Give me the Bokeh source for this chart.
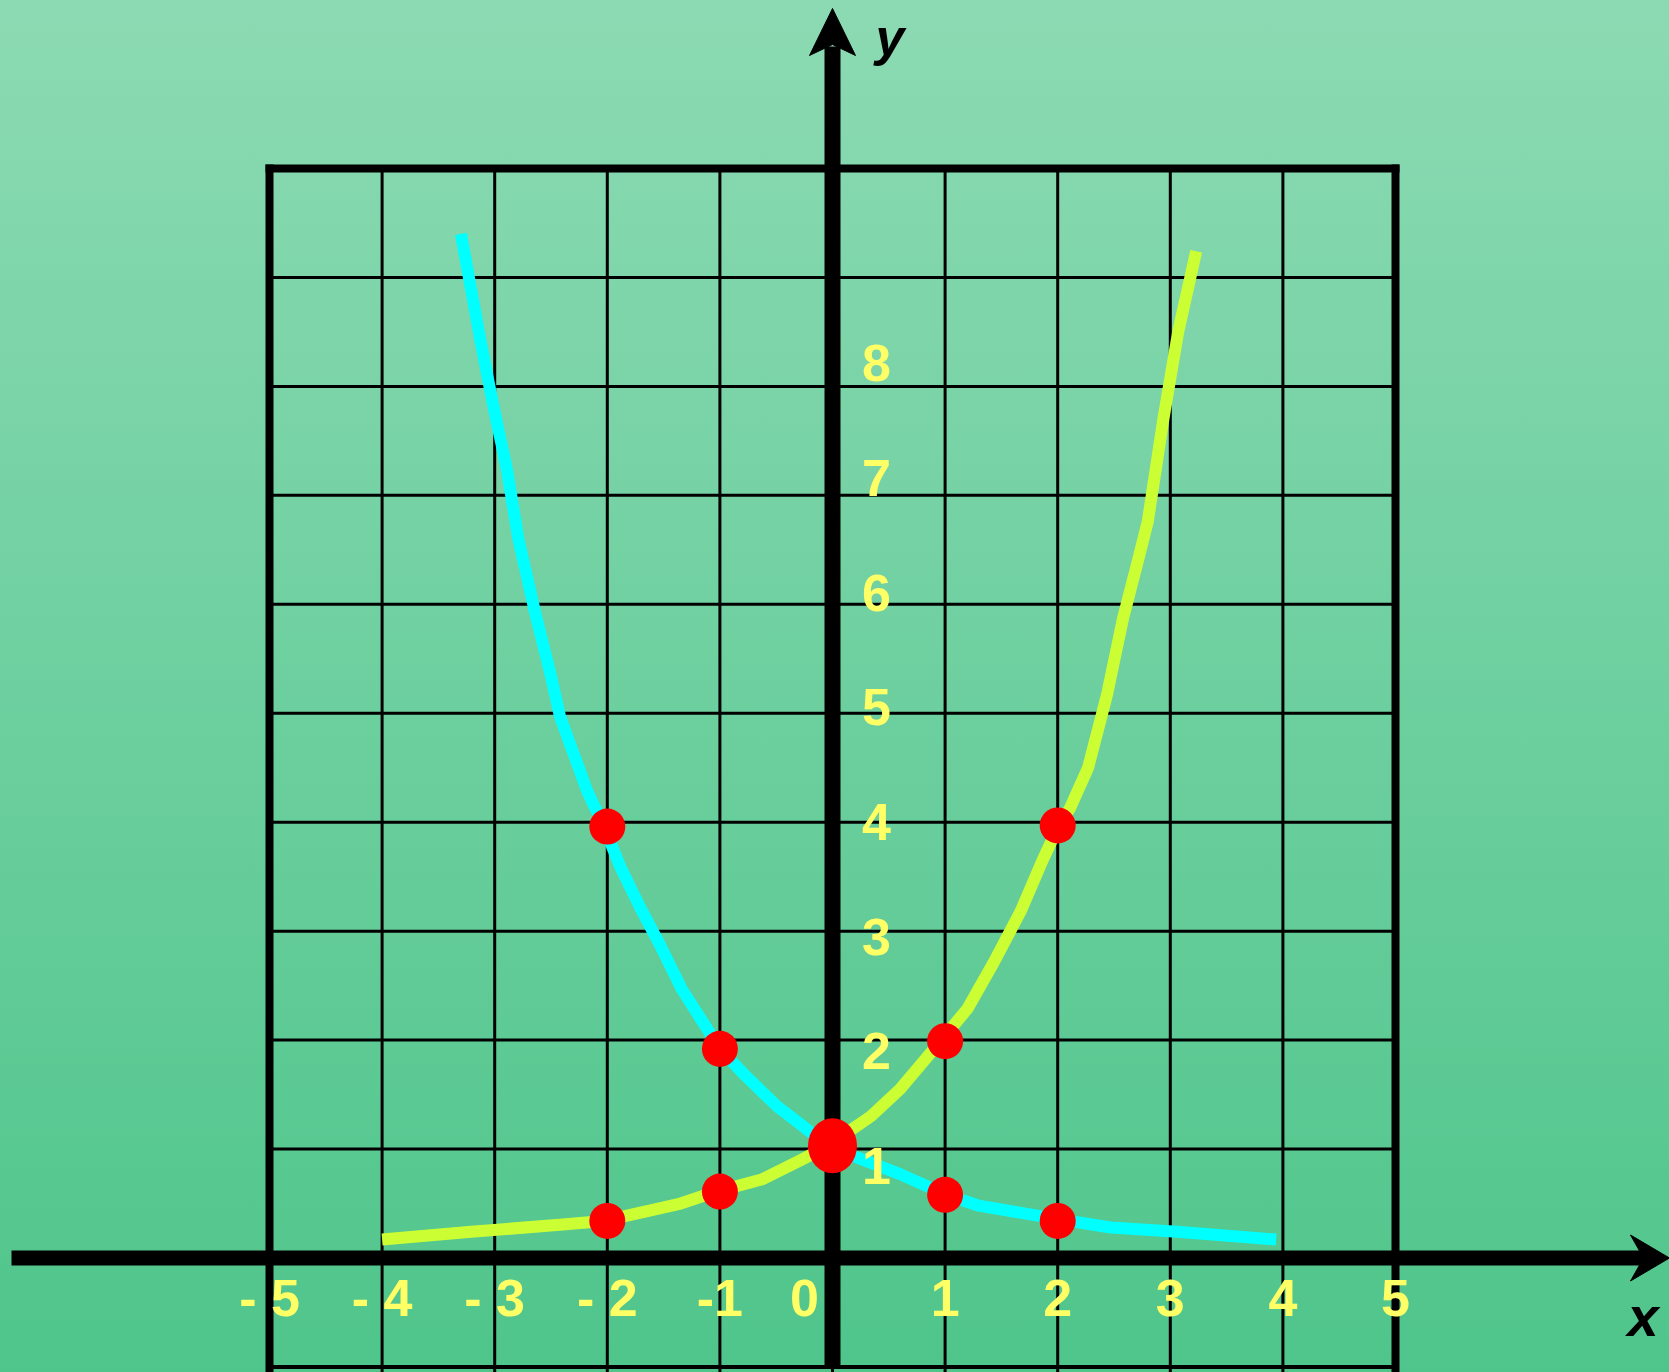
from bokeh.plotting import figure
from bokeh.models import Range1d
from bokeh.core.properties import value
from bokeh.embed import file_html
from bokeh.resources import INLINE

# ---------------- data ----------------
x_ticks = [-5, -4, -3, -2, -1, 0, 1, 2, 3, 4, 5]
x_tick_labels = ["- 5", "- 4", "- 3", "- 2", "-1", "0", "1", "2", "3", "4", "5"]
y_ticks = [1, 2, 3, 4, 5, 6, 7, 8]
y_tick_labels = ["1", "2", "3", "4", "5", "6", "7", "8"]
grid_rows = [1, 2, 3, 4, 5, 6, 7, 8, 9]
grid_top = 10
grid_bottom = -1
grid_left = -5
grid_right = 5

# y = 2^x (yellow-green curve)
growth_x = [-4.00, -3.21, -2.37, -2.03, -1.35, -1.03, -0.63, -0.26, -0.04, 0.34, 0.60,
            0.96, 1.20, 1.43, 1.67, 1.87, 2.01, 2.11, 2.27, 2.44, 2.58, 2.71, 2.80,
            2.94, 3.07, 3.23]
growth_y = [0.17, 0.24, 0.31, 0.34, 0.50, 0.61, 0.72, 0.91, 1.03, 1.30, 1.55,
            1.99, 2.29, 2.71, 3.18, 3.66, 3.97, 4.13, 4.50, 5.18, 5.87, 6.39, 6.76,
            7.71, 8.50, 9.24]

# y = (1/2)^x (cyan curve)
decay_x = [-3.30, -3.13, -3.02, -2.89, -2.79, -2.64, -2.50, -2.42, -2.18, -2.03, -1.88,
           -1.71, -1.53, -1.34, -1.00, -0.77, -0.49, -0.25, -0.04, 0.25, 0.60, 1.01,
           1.30, 2.10, 2.47, 3.06, 3.94]
decay_y = [9.40, 8.44, 7.86, 7.23, 6.60, 5.92, 5.34, 4.97, 4.29, 3.96, 3.58,
           3.22, 2.87, 2.47, 1.92, 1.67, 1.39, 1.20, 1.03, 0.91, 0.77, 0.58,
           0.48, 0.34, 0.28, 0.24, 0.17]

# marked points
dot_x = [-2, -1, 1, 2]
growth_dot_y = [0.34, 0.61, 1.99, 3.97]
decay_dot_y = [3.96, 1.92, 0.58, 0.34]
meet_x = [0]
meet_y = [1.03]

# ---------------- layout / scale ----------------
W, H = 1669, 1372
X0_PX, KX = 832.0, 112.6     # pixel of x=0, pixels per x unit
Y0_PX, KY = 1257.5, 108.95   # pixel of y=0, pixels per y unit


def dx(px):
    return px / KX


def dy(px):
    return px / KY


x_start, x_end = -X0_PX / KX, (W - X0_PX) / KX
y_start, y_end = (Y0_PX - H) / KY, Y0_PX / KY

p = figure(width=W, height=H, output_backend="svg", toolbar_location=None,
           x_range=Range1d(x_start, x_end), y_range=Range1d(y_start, y_end),
           min_border=0, min_border_left=0, min_border_right=0,
           min_border_top=0, min_border_bottom=0)
p.axis.visible = False
p.grid.visible = False
p.outline_line_color = None
p.background_fill_color = None
p.border_fill_color = None

# ---------------- grid ----------------
inner_cols = [c for c in x_ticks if c not in (grid_left, grid_right)]
p.segment(x0=inner_cols, y0=[y_start] * len(inner_cols),
          x1=inner_cols, y1=[grid_top] * len(inner_cols),
          line_color="black", line_width=3)
p.segment(x0=[grid_left] * len(grid_rows), y0=grid_rows,
          x1=[grid_right] * len(grid_rows), y1=grid_rows,
          line_color="black", line_width=3)
# thick frame
p.segment(x0=[grid_left, grid_right], y0=[y_start, y_start],
          x1=[grid_left, grid_right], y1=[grid_top + dy(4), grid_top + dy(4)],
          line_color="black", line_width=8)
p.segment(x0=[grid_left - dx(4)], y0=[grid_top], x1=[grid_right + dx(4)], y1=[grid_top],
          line_color="black", line_width=8)
p.segment(x0=[grid_left], y0=[grid_bottom], x1=[grid_right], y1=[grid_bottom],
          line_color="black", line_width=4)

# ---------------- axes with arrows ----------------
x_axis_start = x_start + dx(11)
x_tip = x_end
x_notch = x_tip - dx(26)
p.segment(x0=[x_axis_start], y0=[0], x1=[x_notch + dx(2)], y1=[0],
          line_color="black", line_width=15, line_cap="butt")
p.patch(x=[x_tip, x_tip - dx(39), x_notch, x_tip - dx(39)],
        y=[0, dy(23), 0, -dy(23)], color="black")

y_axis_start = y_start + dy(7)
y_tip = y_end - dy(8)
y_notch = y_tip - dy(36)
p.segment(x0=[0], y0=[y_axis_start], x1=[0], y1=[y_notch - dy(2)],
          line_color="black", line_width=16, line_cap="butt")
p.patch(x=[0, -dx(23), 0, dx(23)],
        y=[y_tip, y_tip - dy(47), y_notch, y_tip - dy(47)], color="black")

# ---------------- curves ----------------
p.line(growth_x, growth_y, line_color="#ccff33", line_width=12,
       line_join="round", line_cap="butt")
p.line(decay_x, decay_y, line_color="#00ffff", line_width=12,
       line_join="round", line_cap="butt")

# ---------------- points ----------------
p.scatter(dot_x, growth_dot_y, marker="circle", size=36,
          fill_color="#ff0000", line_color=None)
p.scatter(dot_x, decay_dot_y, marker="circle", size=36,
          fill_color="#ff0000", line_color=None)
p.ellipse(x=meet_x, y=meet_y, width=49, height=55,
          width_units="screen", height_units="screen",
          fill_color="#ff0000", line_color=None)

# ---------------- labels ----------------
font = value("Liberation Sans")
lbl_x = [v if v != 0 else v - dx(28) for v in x_ticks]
p.text(x=lbl_x, y=[-dy(40)] * len(x_ticks), text=x_tick_labels,
       text_font=font, text_font_style="bold", text_font_size="52px",
       text_color="#ffff66", text_align="center", text_baseline="alphabetic")

label_step = 1.053
lbl_y = [v * label_step - 0.21 for v in y_ticks]
p.text(x=[dx(44)] * len(y_ticks), y=lbl_y, text=y_tick_labels,
       text_font=font, text_font_style="bold", text_font_size="52px",
       text_color="#ffff66", text_align="center", text_baseline="alphabetic")

p.text(x=[dx(43)], y=[y_end - dy(36)], text=["y"],
       text_font=font, text_font_style="bold italic", text_font_size="52px",
       text_color="black", text_align="left", text_baseline="alphabetic")
p.text(x=[x_end - dx(42)], y=[-dy(58)], text=["x"],
       text_font=font, text_font_style="bold italic", text_font_size="56px",
       text_color="black", text_align="left", text_baseline="alphabetic")

html = file_html(p, INLINE, title="y = 2^x and y = (1/2)^x")
style = ("<style>html,body{margin:0;padding:0;overflow:hidden;}"
         "html{background:linear-gradient(to bottom,#8cdab3 0%,#4fc58b 100%) no-repeat;"
         "min-height:100%;}body{background:transparent;}</style></head>")
html = html.replace("</head>", style, 1)
open("out.html", "w").write(html)
